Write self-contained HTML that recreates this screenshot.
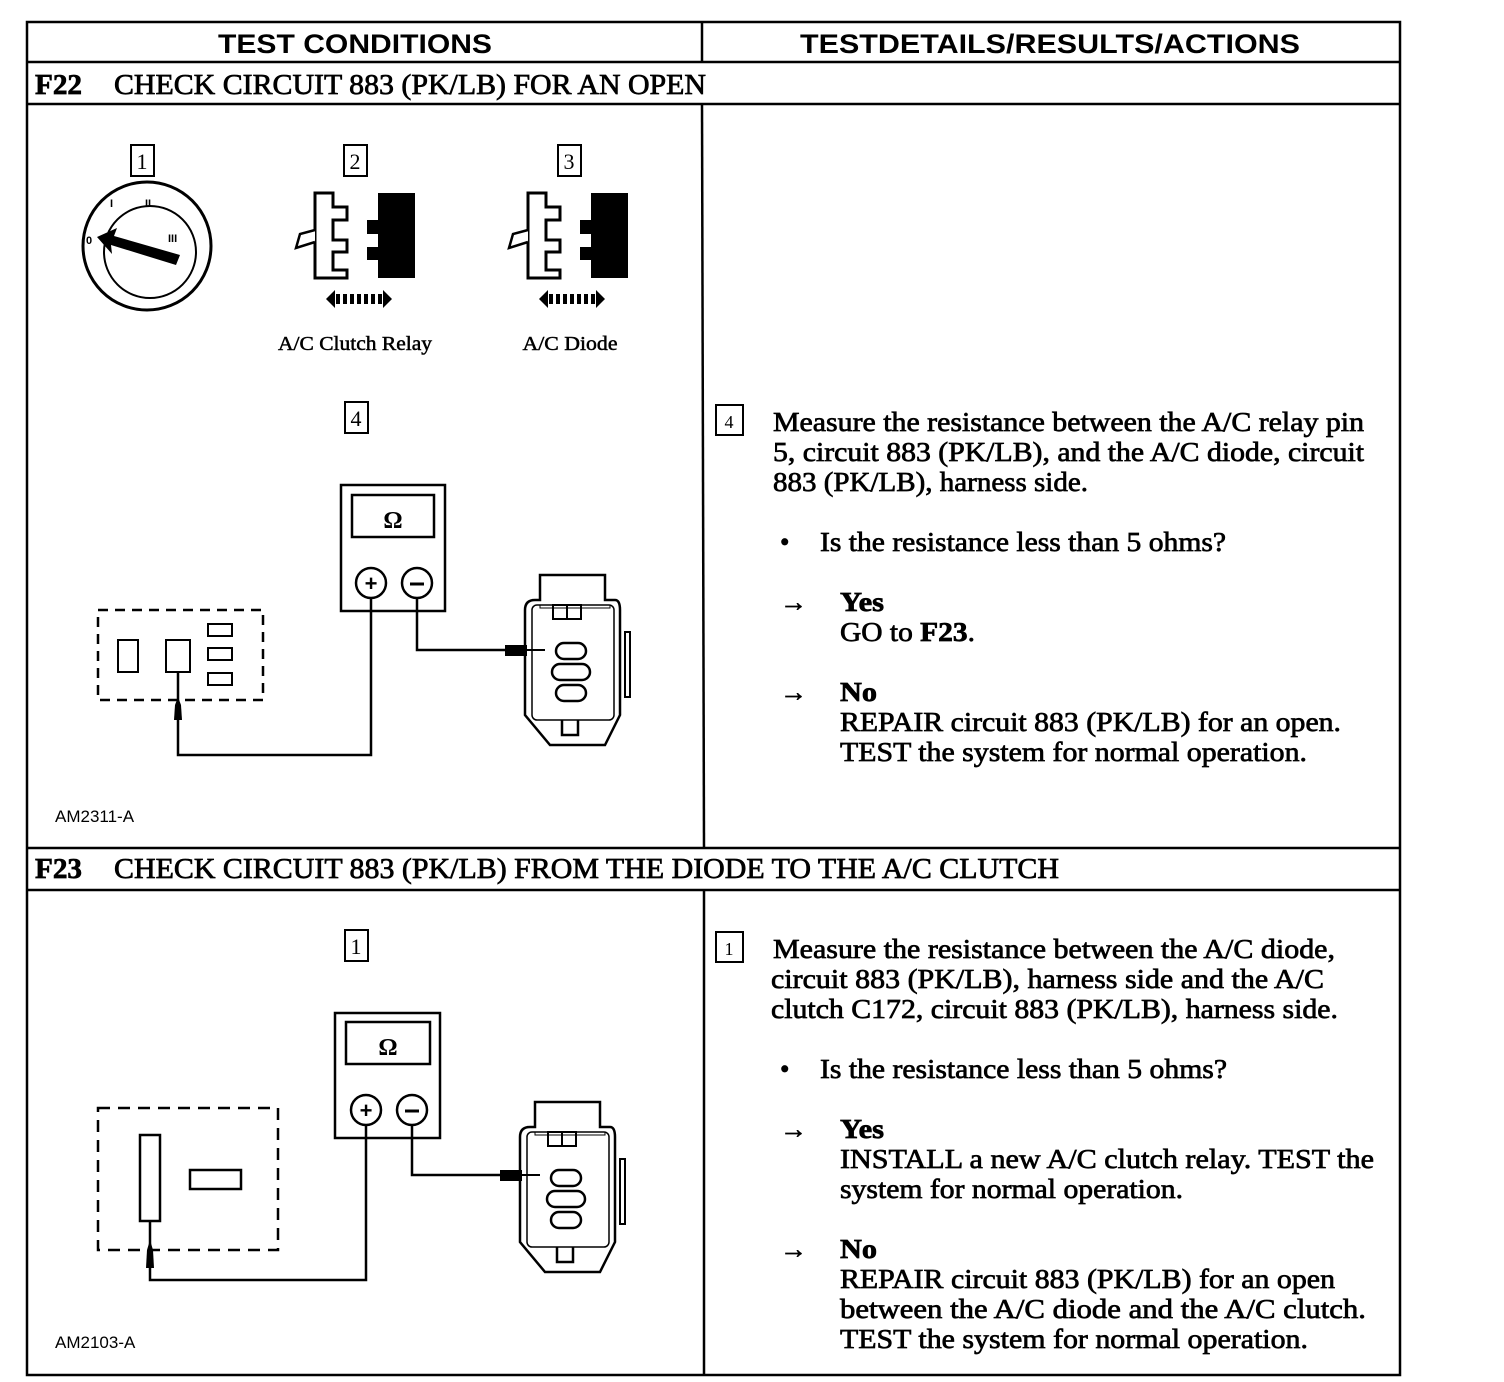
<!DOCTYPE html>
<html><head><meta charset="utf-8"><style>html,body{margin:0;padding:0;background:#fff}svg{display:block}</style></head>
<body>
<svg width="1504" height="1382" viewBox="0 0 1504 1382" xmlns="http://www.w3.org/2000/svg">
<g fill="none" stroke="#000" stroke-width="2.5">
<rect x="27" y="22" width="1373" height="1353"/>
<line x1="27" y1="62" x2="1400" y2="62"/>
<line x1="27" y1="104" x2="1400" y2="104"/>
<line x1="27" y1="848" x2="1400" y2="848"/>
<line x1="27" y1="890" x2="1400" y2="890"/>
<line x1="702" y1="22" x2="702" y2="62"/>
<line x1="702" y1="104" x2="704" y2="848"/>
<line x1="704" y1="890" x2="704" y2="1375"/>
</g>
<g font-family="Liberation Sans, sans-serif" font-weight="bold" font-size="27">
<text x="218" y="53" textLength="274" lengthAdjust="spacingAndGlyphs">TEST CONDITIONS</text>
<text x="800" y="53" textLength="500" lengthAdjust="spacingAndGlyphs">TESTDETAILS/RESULTS/ACTIONS</text>
</g>
<g font-family="Liberation Serif, serif" font-size="28" stroke="#000" stroke-width="0.7">
<text x="35" y="94" font-weight="bold" textLength="47" lengthAdjust="spacingAndGlyphs">F22</text>
<text x="114" y="94" textLength="592" lengthAdjust="spacingAndGlyphs">CHECK CIRCUIT 883 (PK/LB) FOR AN OPEN</text>
<text x="35" y="878" font-weight="bold" textLength="47" lengthAdjust="spacingAndGlyphs">F23</text>
<text x="114" y="878" textLength="945" lengthAdjust="spacingAndGlyphs">CHECK CIRCUIT 883 (PK/LB) FROM THE DIODE TO THE A/C CLUTCH</text>
</g>
<g font-family="Liberation Serif, serif" font-size="27" stroke="#000" stroke-width="0.7">
<text x="773" y="431" textLength="591" lengthAdjust="spacingAndGlyphs">Measure the resistance between the A/C relay pin</text>
<text x="773" y="461" textLength="591" lengthAdjust="spacingAndGlyphs">5, circuit 883 (PK/LB), and the A/C diode, circuit</text>
<text x="773" y="491" textLength="315" lengthAdjust="spacingAndGlyphs">883 (PK/LB), harness side.</text>
<text x="780" y="551">•</text>
<text x="820" y="551" textLength="406" lengthAdjust="spacingAndGlyphs">Is the resistance less than 5 ohms?</text>
<text x="780" y="611">→</text>
<text x="840" y="611" font-weight="bold" textLength="44" lengthAdjust="spacingAndGlyphs">Yes</text>
<text x="840" y="641" textLength="135" lengthAdjust="spacingAndGlyphs">GO to <tspan font-weight="bold">F23</tspan>.</text>
<text x="780" y="701">→</text>
<text x="840" y="701" font-weight="bold" textLength="37" lengthAdjust="spacingAndGlyphs">No</text>
<text x="840" y="731" textLength="501" lengthAdjust="spacingAndGlyphs">REPAIR circuit 883 (PK/LB) for an open.</text>
<text x="840" y="761" textLength="467" lengthAdjust="spacingAndGlyphs">TEST the system for normal operation.</text>

<text x="773" y="958" textLength="562" lengthAdjust="spacingAndGlyphs">Measure the resistance between the A/C diode,</text>
<text x="771" y="988" textLength="553" lengthAdjust="spacingAndGlyphs">circuit 883 (PK/LB), harness side and the A/C</text>
<text x="771" y="1018" textLength="567" lengthAdjust="spacingAndGlyphs">clutch C172, circuit 883 (PK/LB), harness side.</text>
<text x="780" y="1078">•</text>
<text x="820" y="1078" textLength="407" lengthAdjust="spacingAndGlyphs">Is the resistance less than 5 ohms?</text>
<text x="780" y="1138">→</text>
<text x="840" y="1138" font-weight="bold" textLength="44" lengthAdjust="spacingAndGlyphs">Yes</text>
<text x="840" y="1168" textLength="534" lengthAdjust="spacingAndGlyphs">INSTALL a new A/C clutch relay. TEST the</text>
<text x="840" y="1198" textLength="343" lengthAdjust="spacingAndGlyphs">system for normal operation.</text>
<text x="780" y="1258">→</text>
<text x="840" y="1258" font-weight="bold" textLength="37" lengthAdjust="spacingAndGlyphs">No</text>
<text x="840" y="1288" textLength="495" lengthAdjust="spacingAndGlyphs">REPAIR circuit 883 (PK/LB) for an open</text>
<text x="840" y="1318" textLength="526" lengthAdjust="spacingAndGlyphs">between the A/C diode and the A/C clutch.</text>
<text x="840" y="1348" textLength="468" lengthAdjust="spacingAndGlyphs">TEST the system for normal operation.</text>
</g>
<g fill="none" stroke="#000" stroke-width="2">
<rect x="131" y="145" width="23" height="31"/>
<rect x="344" y="145" width="23" height="31"/>
<rect x="558" y="145" width="23" height="31"/>
<rect x="345" y="402" width="23" height="31"/>
<rect x="716" y="405" width="27" height="30"/>
<rect x="345" y="930" width="23" height="31"/>
<rect x="716" y="932" width="27" height="30"/>
</g>
<g font-family="Liberation Serif, serif" font-size="22" text-anchor="middle">
<text x="142" y="169">1</text><text x="355" y="169">2</text><text x="569" y="169">3</text>
<text x="356" y="426">4</text><text x="729" y="428" font-size="18">4</text>
<text x="356" y="954">1</text><text x="729" y="955" font-size="18">1</text>
</g>
<g font-family="Liberation Serif, serif" font-size="20" text-anchor="middle" stroke="#000" stroke-width="0.5">
<text x="355" y="350" textLength="154" lengthAdjust="spacingAndGlyphs">A/C Clutch Relay</text>
<text x="570" y="350" textLength="95" lengthAdjust="spacingAndGlyphs">A/C Diode</text>
</g>
<g font-family="Liberation Sans, sans-serif" font-size="17">
<text x="55" y="822">AM2311-A</text>
<text x="55" y="1348">AM2103-A</text>
</g>
<g stroke="#000" fill="none" stroke-width="3">
<ellipse cx="147" cy="246" rx="64" ry="64"/>
<ellipse cx="150" cy="252" rx="46" ry="46" stroke-width="2"/>
</g>
<polygon points="97,237 117,228 114,236 180,255 176,265 111,245 112,254" fill="#000"/>
<g font-family="Liberation Sans, sans-serif" font-size="11" font-weight="bold">
<text x="86" y="244">0</text><text x="110" y="207">I</text><text x="145" y="207">II</text><text x="168" y="242">III</text>
</g>
<g id="c2">
<path d="M315,193 H333 V207 H347 V220 H333 V240 H347 V252 H333 V270 H347 V278 H315 Z" fill="#fff" stroke="#000" stroke-width="3"/>
<path d="M315,230 L300,234 L296,248 L315,242" fill="#fff" stroke="#000" stroke-width="2.5"/>
<path d="M378,193 H415 V278 H378 V260 H367 V247 H378 V234 H367 V220 H378 Z" fill="#000"/>
<polygon points="326,299 335,290 335,308" fill="#000"/>
<polygon points="392,299 383,290 383,308" fill="#000"/>
<g fill="#000"><rect x="336" y="294" width="4" height="10"/><rect x="343" y="294" width="4" height="10"/><rect x="350" y="294" width="4" height="10"/><rect x="357" y="294" width="4" height="10"/><rect x="364" y="294" width="4" height="10"/><rect x="371" y="294" width="4" height="10"/><rect x="378" y="294" width="4" height="10"/></g>
</g>
<use href="#c2" transform="translate(213,0)"/>
<g fill="none" stroke="#000" stroke-width="2.5">
<rect x="341" y="485" width="104" height="126"/>
<rect x="352" y="495" width="82" height="42"/>
<circle cx="371" cy="583" r="15"/><circle cx="417" cy="583" r="15"/>
</g>
<text x="393" y="528" font-family="Liberation Serif, serif" font-weight="bold" font-size="24" text-anchor="middle">Ω</text>
<text x="371" y="591" font-family="Liberation Sans, sans-serif" font-weight="bold" font-size="22" text-anchor="middle">+</text>
<line x1="410" y1="584" x2="424" y2="584" stroke="#000" stroke-width="3"/>
<rect x="98" y="610" width="165" height="90" fill="none" stroke="#000" stroke-width="2.5" stroke-dasharray="10,7"/>
<g fill="none" stroke="#000" stroke-width="2">
<rect x="118" y="640" width="20" height="32"/><rect x="166" y="640" width="24" height="32"/>
<rect x="208" y="624" width="24" height="12"/><rect x="208" y="648" width="24" height="12"/><rect x="208" y="673" width="24" height="12"/>
<polyline points="178,672 178,755 371,755 371,598" stroke-width="2.5"/>
<polyline points="417,598 417,650 505,650" stroke-width="2.5"/>
<line x1="525" y1="650" x2="545" y2="650"/>
</g>
<polygon points="174,720 175,705 178,697 181,705 182,720" fill="#000"/>
<rect x="505" y="645" width="22" height="11" fill="#000"/>
<g id="p1" fill="none" stroke="#000" stroke-width="2.5">
<path d="M540,575 H605 V600 H615 Q620,600 620,610 V715 L605,745 H550 L525,715 V610 Q525,600 535,600 H540 Z"/>
<rect x="532" y="605" width="82" height="115" rx="5" stroke-width="1.5"/>
<rect x="625" y="632" width="5" height="65" stroke-width="2"/>
<rect x="540" y="605" width="70" height="3" stroke-width="1"/>
<rect x="553" y="605" width="28" height="14" stroke-width="2"/>
<line x1="567" y1="605" x2="567" y2="619" stroke-width="2"/>
<rect x="556" y="643" width="30" height="16" rx="8"/>
<rect x="552" y="664" width="38" height="16" rx="8"/>
<rect x="556" y="685" width="30" height="16" rx="8"/>
<path d="M562,720 V735 H578 V720"/>
</g>
<g fill="none" stroke="#000" stroke-width="2.5">
<rect x="335" y="1013" width="105" height="125"/>
<rect x="346" y="1022" width="84" height="42"/>
<circle cx="366" cy="1110" r="15"/><circle cx="412" cy="1110" r="15"/>
</g>
<text x="388" y="1055" font-family="Liberation Serif, serif" font-weight="bold" font-size="24" text-anchor="middle">Ω</text>
<text x="366" y="1118" font-family="Liberation Sans, sans-serif" font-weight="bold" font-size="22" text-anchor="middle">+</text>
<line x1="405" y1="1111" x2="419" y2="1111" stroke="#000" stroke-width="3"/>
<rect x="98" y="1108" width="180" height="142" fill="none" stroke="#000" stroke-width="2.5" stroke-dasharray="12,8"/>
<g fill="none" stroke="#000" stroke-width="2.5">
<rect x="140" y="1135" width="20" height="86"/>
<rect x="190" y="1170" width="51" height="19"/>
<polyline points="150,1221 150,1280 366,1280 366,1125"/>
<polyline points="412,1125 412,1175 500,1175"/>
<line x1="520" y1="1175" x2="540" y2="1175" stroke-width="2"/>
</g>
<polygon points="146,1268 147,1250 150,1240 153,1250 154,1268" fill="#000"/>
<rect x="500" y="1170" width="22" height="11" fill="#000"/>
<use href="#p1" transform="translate(-5,527)"/>
</svg>
</body></html>
